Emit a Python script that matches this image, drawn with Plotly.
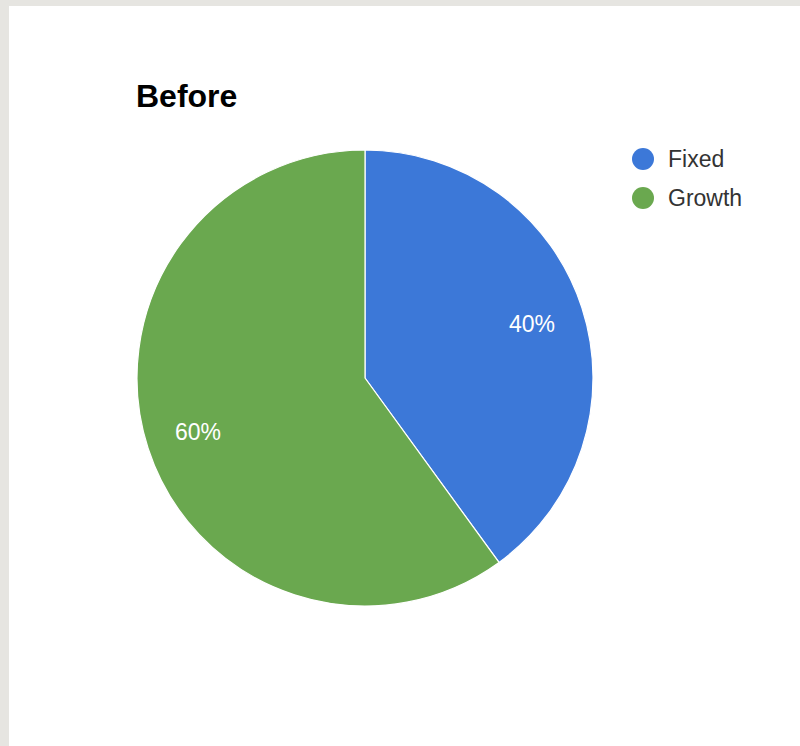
import math
import plotly.graph_objects as go

labels = ["Fixed", "Growth"]
values = [40, 60]
colors = ["#3c78d8", "#6aa84f"]
title_text = "Before"

W, H = 800, 746
# pie geometry in pixels
PX0, PX1, PY0, PY1 = 137, 593, 150, 606
cx, cy = (PX0 + PX1) / 2, (PY0 + PY1) / 2
R = (PX1 - PX0) / 2

fig = go.Figure()

fig.add_trace(go.Pie(
    labels=labels,
    values=values,
    marker=dict(colors=colors, line=dict(color="white", width=1.2)),
    sort=False,
    direction="clockwise",
    rotation=0,
    textinfo="none",
    domain=dict(x=[PX0 / W, PX1 / W], y=[(H - PY1) / H, (H - PY0) / H]),
    showlegend=False,
    hoverinfo="label+percent",
))

annotations = []
shapes = [dict(
    type="rect", xref="paper", yref="paper",
    x0=9 / W, x1=1.01, y0=-0.01, y1=(H - 6) / H,
    fillcolor="white", line=dict(width=0), layer="below",
)]

# percentage labels placed at slice mid-angles (computed from values)
total = sum(values)
cum = 0
for v in values:
    mid = (cum + v / 2) / total * 2 * math.pi
    cum += v
    px = cx + 0.77 * R * math.sin(mid)
    py = cy - 0.77 * R * math.cos(mid)
    annotations.append(dict(
        x=px / W, y=(H - py) / H, xref="paper", yref="paper",
        text=f"{round(v / total * 100)}%", showarrow=False,
        xanchor="center", yanchor="middle",
        font=dict(family="Arial, Liberation Sans", size=23, color="white"),
    ))

# legend (circles + labels)
LX, LY0, LDY, LR = 643, 159, 39, 11
for i, (lab, col) in enumerate(zip(labels, colors)):
    y = LY0 + i * LDY
    shapes.append(dict(
        type="circle", xref="paper", yref="paper",
        x0=(LX - LR) / W, x1=(LX + LR) / W,
        y0=(H - y - LR) / H, y1=(H - y + LR) / H,
        fillcolor=col, line=dict(width=0),
    ))
    annotations.append(dict(
        x=666 / W, y=(H - y) / H, xref="paper", yref="paper",
        text=lab, showarrow=False, xanchor="left", yanchor="middle",
        font=dict(family="Arial, Liberation Sans", size=23, color="#333333"),
    ))

fig.update_layout(
    width=W, height=H,
    margin=dict(l=0, r=0, t=0, b=0),
    paper_bgcolor="#e6e5e1",
    plot_bgcolor="rgba(0,0,0,0)",
    showlegend=False,
    title=dict(
        text="<b>" + title_text + "</b>",
        x=136 / W, xanchor="left", xref="paper",
        y=(H - 96) / H, yanchor="middle", yref="paper",
        font=dict(family="Arial, Liberation Sans", size=32, color="#000000"),
    ),
    annotations=annotations,
    shapes=shapes,
)

fig.write_html(
    "out.html",
    config={"displayModeBar": False},
    post_script="document.body.style.margin='0';document.body.style.overflow='hidden';",
)
